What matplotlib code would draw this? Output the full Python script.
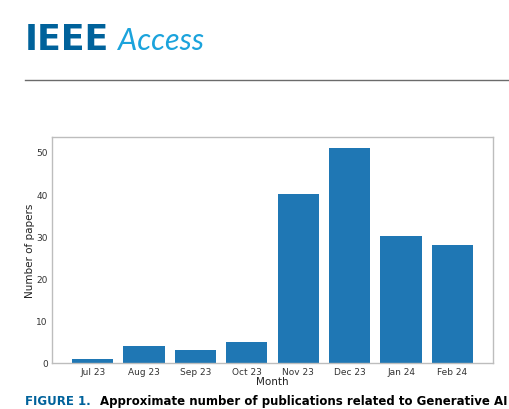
import matplotlib
matplotlib.use("Agg")
import matplotlib.pyplot as plt

months = ["Jul 23", "Aug 23", "Sep 23", "Oct 23", "Nov 23", "Dec 23", "Jan 24", "Feb 24"]
papers = [1, 4, 3, 5, 40, 51, 30, 28]

fig = plt.figure(figsize=(5.1, 4.1), dpi=100)

# page header
fig.text(25 / 510, 1 - 40 / 410, "IEEE", fontsize=25, fontweight="bold",
         family="DejaVu Sans", color="#00629b", va="center", ha="left")
fig.text(118 / 510, 1 - 41 / 410, "Access", fontsize=22, fontweight="normal",
         fontstyle="italic", family="Lato", color="#1ba3dc", va="center", ha="left")
fig.add_artist(plt.Line2D([25 / 510, 1.0], [1 - 81 / 410] * 2,
                          color="#6b6b6b", lw=1.0, transform=fig.transFigure))

ax = fig.add_axes([52 / 510, 1 - 364 / 410, 441 / 510, 226 / 410])
ax.bar(months, papers, color="#1f77b4")
ax.set_xlabel("Month", fontsize=7.5, labelpad=0, color="#222222")
ax.set_ylabel("Number of papers", fontsize=7.5, labelpad=1, color="#222222")
ax.tick_params(length=0, labelsize=6.5, colors="#333333", pad=3)
for s in ax.spines.values():
    s.set_color("#bdbdbd")
    s.set_linewidth(1.0)

# caption at the bottom of the page crop
fig.text(25 / 510, 0.004, "FIGURE 1.", fontsize=8.5, fontweight="bold",
         color="#00629b", va="bottom", ha="left")
fig.text(100 / 510, 0.004,
         "Approximate number of publications related to Generative AI",
         fontsize=8.5, fontweight="bold", color="black", va="bottom", ha="left")

fig.savefig("out.png", dpi=100)
